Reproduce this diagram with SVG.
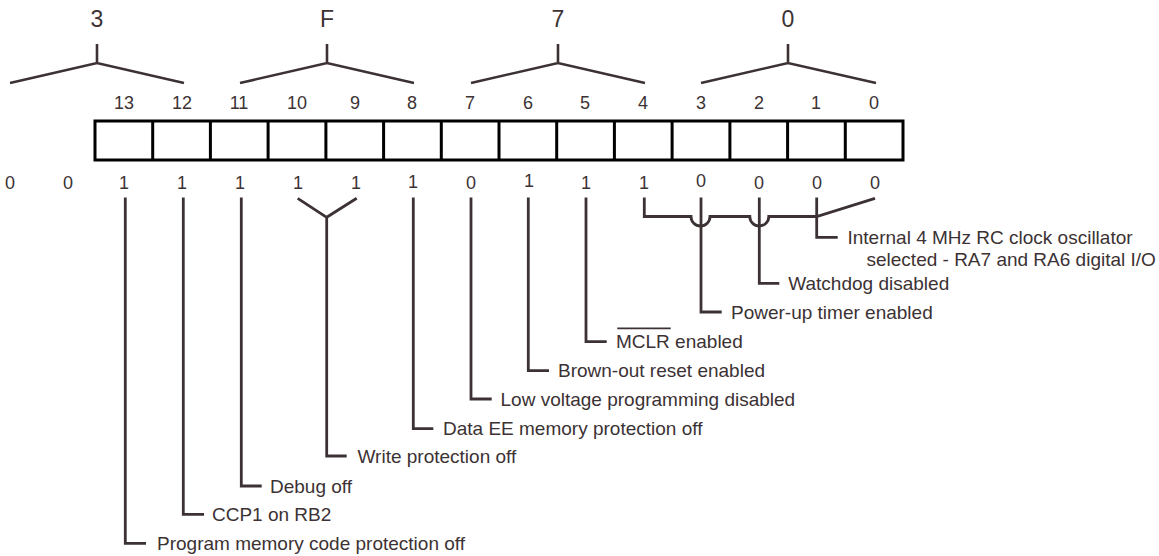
<svg xmlns="http://www.w3.org/2000/svg" width="1159" height="556" viewBox="0 0 1159 556">
<style>
text{font-family:"Liberation Sans",Arial,Helvetica,sans-serif;fill:#3c3234}
.nib{font-size:23px;text-anchor:middle}
.num{font-size:18px;text-anchor:middle}
.val{font-size:18px;text-anchor:middle}
.lbl{font-size:19px}
.br{fill:none;stroke:#3c3234;stroke-width:2.6}
.cell{fill:#fff;stroke:#000;stroke-width:3}
.con{fill:none;stroke:#3c3234;stroke-width:2.8}
</style>
<rect width="1159" height="556" fill="#fff"/>
<g id="nibbles">
<text class="nib" x="97" y="27">3</text>
<text class="nib" x="327" y="27">F</text>
<text class="nib" x="558" y="27">7</text>
<text class="nib" x="788" y="27">0</text>
<path class="br" d="M97,44V63M10,83L97,63L184,83"/>
<path class="br" d="M327,44V63M240,83L327,63L414,83"/>
<path class="br" d="M558,44V63M471,83L558,63L645,83"/>
<path class="br" d="M788,44V63M701,83L788,63L876,83"/>
</g>
<g id="bitnumbers">
<text class="num" x="124" y="109">13</text>
<text class="num" x="182" y="109">12</text>
<text class="num" x="239" y="109">11</text>
<text class="num" x="297" y="109">10</text>
<text class="num" x="355" y="109">9</text>
<text class="num" x="412" y="109">8</text>
<text class="num" x="470" y="109">7</text>
<text class="num" x="528" y="109">6</text>
<text class="num" x="585" y="109">5</text>
<text class="num" x="643" y="109">4</text>
<text class="num" x="701" y="109">3</text>
<text class="num" x="759" y="109">2</text>
<text class="num" x="816" y="109">1</text>
<text class="num" x="874" y="109">0</text>
</g>
<g id="register">
<rect class="cell" x="95" y="121" width="808" height="39"/>
<path class="cell" d="M152.7,121V160M210.4,121V160M268.1,121V160M325.9,121V160M383.6,121V160M441.3,121V160M499,121V160M556.7,121V160M614.4,121V160M672.1,121V160M729.9,121V160M787.6,121V160M845.3,121V160"/>
</g>
<g id="values">
<text class="val" x="10" y="189">0</text>
<text class="val" x="68" y="189">0</text>
<text class="val" x="124" y="189">1</text>
<text class="val" x="182" y="189">1</text>
<text class="val" x="240" y="189">1</text>
<text class="val" x="298" y="189">1</text>
<text class="val" x="356" y="189">1</text>
<text class="val" x="413" y="188">1</text>
<text class="val" x="471" y="189">0</text>
<text class="val" x="529" y="187">1</text>
<text class="val" x="586" y="189">1</text>
<text class="val" x="644" y="189">1</text>
<text class="val" x="701" y="187">0</text>
<text class="val" x="759" y="189">0</text>
<text class="val" x="817" y="189">0</text>
<text class="val" x="875" y="189">0</text>
</g>
<g id="connectors">
<path class="con" d="M125.3,197.5V543.3H146"/>
<path class="con" d="M183.3,197.5V514.3H204"/>
<path class="con" d="M241.3,197.5V486H261.7"/>
<path class="con" d="M297.7,198.3L326.7,217.3L356.7,198.3M326.7,217.3V456H346.7"/>
<path class="con" d="M413.3,197.5V428.7H433.3"/>
<path class="con" d="M471,197.5V399H491.7"/>
<path class="con" d="M528.3,197.5V370.7H549"/>
<path class="con" d="M586,197.5V341.7H606.7"/>
<path class="con" d="M701,197.5V312H721.7"/>
<path class="con" d="M759.3,197.5V283.3H779.3"/>
<path class="con" d="M644.3,197.5V216.5H691A9.5,9.5 0 0 0 710,216.5H749.8A9.5,9.5 0 0 0 768.8,216.5H816.7L875,198.3M816.7,197.5V237.3H837.7"/>
</g>
<g id="label-cp">
<text class="lbl" x="157" y="550">Program memory code protection off</text>
</g>
<g id="label-ccp1">
<text class="lbl" x="212" y="521">CCP1 on RB2</text>
</g>
<g id="label-debug">
<text class="lbl" x="270" y="492.5">Debug off</text>
</g>
<g id="label-wrt">
<text class="lbl" x="357.5" y="462.5">Write protection off</text>
</g>
<g id="label-cpd">
<text class="lbl" x="443" y="435">Data EE memory protection off</text>
</g>
<g id="label-lvp">
<text class="lbl" x="500.5" y="405.5">Low voltage programming disabled</text>
</g>
<g id="label-boren">
<text class="lbl" x="558" y="377">Brown-out reset enabled</text>
</g>
<g id="label-mclr">
<text class="lbl" x="616" y="348">MCLR enabled</text>
<line x1="617.3" y1="328.3" x2="670.7" y2="328.3" stroke="#3c3234" stroke-width="1.8"/>
</g>
<g id="label-pwrte">
<text class="lbl" x="731" y="318.5">Power-up timer enabled</text>
</g>
<g id="label-wdte">
<text class="lbl" x="788.3" y="289.5">Watchdog disabled</text>
</g>
<g id="label-fosc">
<text class="lbl" x="847.5" y="243.5">Internal 4 MHz RC clock oscillator</text>
<text class="lbl" x="866.5" y="265.5">selected - RA7 and RA6 digital I/O</text>
</g>
</svg>
